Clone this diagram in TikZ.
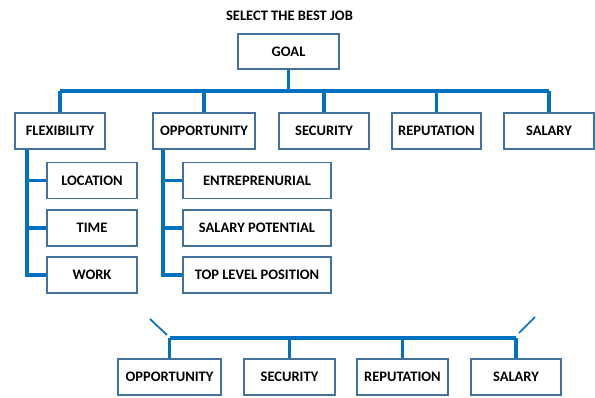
\documentclass[tikz,border=0pt]{standalone}
\usepackage{fontspec}
\setmainfont{Carlito}
\usepackage{tikz}
\definecolor{linkblue}{RGB}{0,112,192}
\definecolor{boxblue}{RGB}{65,113,156}

\begin{document}
\begin{tikzpicture}[x=1pt,y=1pt,
	box/.style={draw=boxblue,line width=1.6pt,fill=white,inner sep=0pt,minimum height=36pt,font=\fontsize{14.5}{16}\selectfont\bfseries},
	link/.style={draw=linkblue,line width=3.2pt}]

\useasboundingbox (0,0) rectangle (595,397);

\node[font=\fontsize{14.5}{16}\selectfont\bfseries] (title) at (289.5,381) {SELECT THE BEST JOB};
\node[box,minimum width=101pt,minimum height=35pt] (goal) at (288.5,345.5) {GOAL};

\node[box,minimum width=90pt]	(flex)	at (60,266)		{FLEXIBILITY};
\node[box,minimum width=102pt]	(opp)	at (204,266)	{OPPORTUNITY};
\node[box,minimum width=90pt]	(sec)	at (324,266)	{SECURITY};
\node[box,minimum width=89pt]	(rep)	at (436.5,266)	{REPUTATION};
\node[box,minimum width=90pt]	(sal)	at (549,266)	{SALARY};

\node[box,minimum width=90pt]	(loc)	at (92,216.5)	{LOCATION};
\node[box,minimum width=90pt]	(time)	at (92,169)		{TIME};
\node[box,minimum width=90pt]	(work)	at (92,122)		{WORK};

\node[box,minimum width=148pt]	(entr)	at (257,216.5)	{ENTREPRENURIAL};
\node[box,minimum width=148pt]	(salpot)	at (257,169)	{SALARY POTENTIAL};
\node[box,minimum width=148pt]	(top)	at (257,122)	{TOP LEVEL POSITION};

\node[box,minimum width=103pt]	(oppB)	at (169.5,20)	{OPPORTUNITY};
\node[box,minimum width=91pt]	(secB)	at (289.5,20)	{SECURITY};
\node[box,minimum width=91pt]	(repB)	at (402.5,20)	{REPUTATION};
\node[box,minimum width=90pt]	(salB)	at (516,20)		{SALARY};

\coordinate (busA) at (0,306);
\coordinate (busB) at (0,59);
\coordinate (tickL) at (150,78);
\coordinate (tickR) at (535,80);

% top level
\draw[link] (goal.south) -- (goal.south |- busA);
\draw[link] (flex.north |- busA) -- (sal.north |- busA);
\foreach \n in {flex,opp,sec,rep,sal}
	\draw[link] (\n.north |- busA) -- (\n.north);

% sub levels
\foreach \n in {loc,time,work}
	\draw[link] ([xshift=-33pt]flex.south) |- (\n.west);
\foreach \n in {entr,salpot,top}
	\draw[link] ([xshift=-41pt]opp.south) |- (\n.west);

% bottom row
\draw[link] (oppB.north |- busB) -- (salB.north |- busB);
\foreach \n in {oppB,secB,repB,salB}
	\draw[link] (\n.north |- busB) -- (\n.north);
\draw[linkblue,line width=1.7pt] (tickL) -- ++(17,-16);
\draw[linkblue,line width=1.7pt] (tickR) -- ++(-16,-16);
\end{tikzpicture}
\end{document}
